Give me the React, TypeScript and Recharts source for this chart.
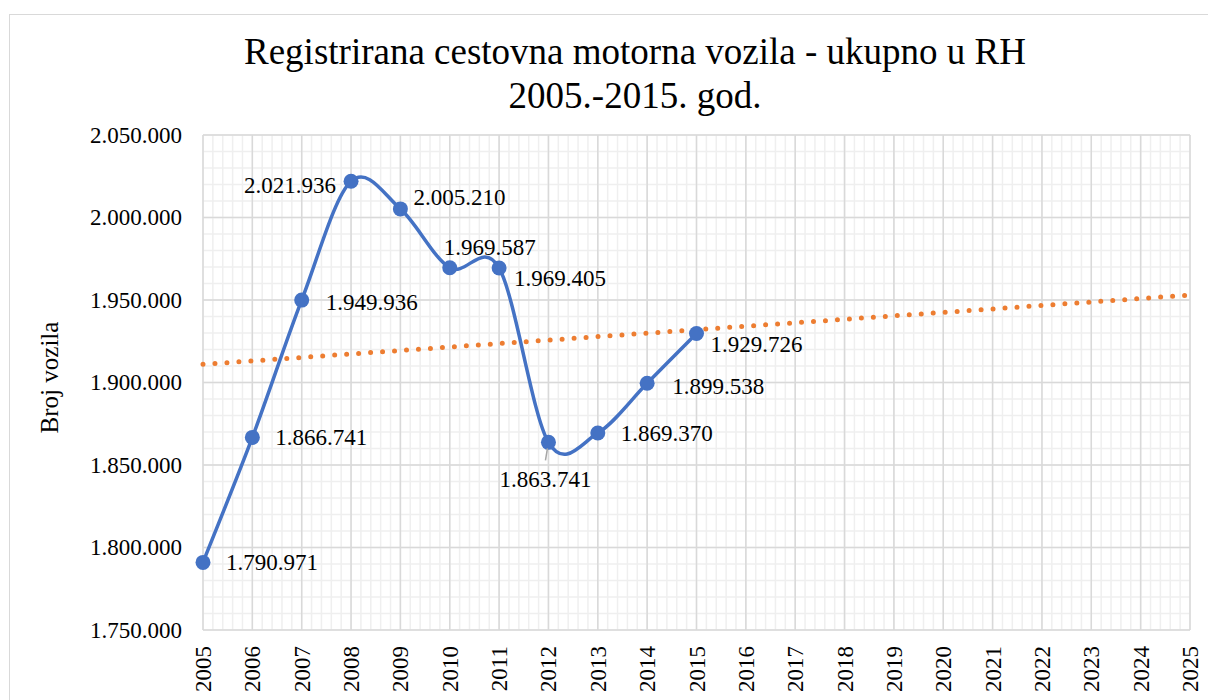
import React from 'react';
import { LineChart, Line, XAxis, YAxis, CartesianGrid, LabelList } from 'recharts';

// Registrirana vozila u RH, 2005-2015
const years = [2005, 2006, 2007, 2008, 2009, 2010, 2011, 2012, 2013, 2014, 2015];
const vehicles = [1790971, 1866741, 1949936, 2021936, 2005210, 1969587, 1969405, 1863741, 1869370, 1899538, 1929726];

// linear trendline endpoints
const trendYears = [2005, 2025];
const trendValues = [1911000, 1953000];

const xTicks = [2005, 2006, 2007, 2008, 2009, 2010, 2011, 2012, 2013, 2014, 2015, 2016, 2017, 2018, 2019, 2020, 2021, 2022, 2023, 2024, 2025];
const yTicks = [1750000, 1800000, 1850000, 1900000, 1950000, 2000000, 2050000];

const data = years.map((y, i) => ({ year: y, value: vehicles[i] }));
const trend = trendYears.map((y, i) => ({ year: y, trend: trendValues[i] }));

// minor gridlines
const minorX: number[] = [];
for (let i = 0; i <= 100; i++) minorX.push(2005 + i / 5);
const minorY: number[] = [];
for (let v = 1750000; v <= 2050000; v += 10000) minorY.push(v);

// where each data label sits relative to its point
const labelPos = [
  { dx: 23, dy: 0, anchor: 'start' },
  { dx: 23, dy: 0, anchor: 'start' },
  { dx: 24, dy: 2, anchor: 'start' },
  { dx: -15, dy: 4, anchor: 'end' },
  { dx: 13, dy: -11, anchor: 'start' },
  { dx: -6, dy: -20, anchor: 'start' },
  { dx: 15, dy: 11, anchor: 'start' },
  { dx: -3, dy: 37, anchor: 'middle' },
  { dx: 23, dy: 0, anchor: 'start' },
  { dx: 25, dy: 3, anchor: 'start' },
  { dx: 14, dy: 11, anchor: 'start' },
];

const FONT = '"Liberation Serif", "Times New Roman", serif';

const fmt = (v: number) => String(Math.round(v)).replace(/\B(?=(\d{3})+(?!\d))/g, '.');

// Excel-like smoothed line (Catmull-Rom as bezier, 1/6 tension)
function excelCurve(context: any) {
  let pts: number[][] = [];
  return {
    areaStart() {},
    areaEnd() {},
    lineStart() {
      pts = [];
    },
    point(x: number, y: number) {
      pts.push([+x, +y]);
    },
    lineEnd() {
      if (!pts.length) return;
      context.moveTo(pts[0][0], pts[0][1]);
      for (let i = 0; i < pts.length - 1; i++) {
        const p0 = pts[i - 1] || pts[i];
        const p1 = pts[i];
        const p2 = pts[i + 1];
        const p3 = pts[i + 2] || p2;
        context.bezierCurveTo(
          p1[0] + (p2[0] - p0[0]) / 6,
          p1[1] + (p2[1] - p0[1]) / 6,
          p2[0] - (p3[0] - p1[0]) / 6,
          p2[1] - (p3[1] - p1[1]) / 6,
          p2[0],
          p2[1]
        );
      }
    },
  };
}

const XTick = (props: any) => {
  const { x, y, payload } = props;
  const ax = x + 8;
  const ay = y + 8;
  return (
    <text x={ax} y={ay} transform={`rotate(-90 ${ax} ${ay})`} textAnchor="end" fontSize={23} fontFamily={FONT} fill="#000">
      {payload.value}
    </text>
  );
};

const YTick = (props: any) => {
  const { x, y, payload } = props;
  return (
    <text x={x} y={y} dominantBaseline="central" textAnchor="end" fontSize={23} fontFamily={FONT} fill="#000">
      {fmt(payload.value)}
    </text>
  );
};

const PointLabel = (props: any) => {
  const { index, value } = props;
  const px = props.x ?? props.viewBox?.x;
  const py = props.y ?? props.viewBox?.y;
  const p = labelPos[index];
  if (!p || px == null) return null;
  return (
    <g>
      {index === 7 && <line x1={px - 1} y1={py + 6} x2={px - 3} y2={py + 18} stroke="#a6a6a6" strokeWidth={1.5} />}
      <text x={px + p.dx} y={py + p.dy} textAnchor={p.anchor} dominantBaseline="central" fontSize={23} fontFamily={FONT} fill="#000">
        {fmt(value)}
      </text>
    </g>
  );
};

const YLabel = (props: any) => {
  const vb = props.viewBox || { x: 0, y: 135, width: 203, height: 495 };
  const cx = vb.x + 58;
  const cy = vb.y + vb.height / 2 - 5;
  return (
    <text x={cx} y={cy} transform={`rotate(-90 ${cx} ${cy})`} textAnchor="middle" fontSize={25} fontFamily={FONT} fill="#000">
      Broj vozila
    </text>
  );
};

export default function App() {
  return (
    <div style={{ position: 'absolute', left: 0, top: 0, width: 1208, height: 700, overflow: 'hidden', background: '#fff' }}>
      <div
        style={{
          position: 'absolute',
          left: 9,
          top: 14,
          width: 1300,
          height: 800,
          border: '1.5px solid #d9d9d9',
        }}
      />
      <div
        style={{
          position: 'absolute',
          left: 0,
          top: 30,
          width: 1270,
          textAlign: 'center',
          fontFamily: FONT,
          fontSize: 37,
          lineHeight: '44px',
          color: '#000',
        }}
      >
        <div>Registrirana cestovna motorna vozila - ukupno u RH</div>
        <div>2005.-2015. god.</div>
      </div>
      <div style={{ position: 'absolute', left: 0, top: 0 }}>
        <LineChart width={1208} height={700} data={data} margin={{ top: 135, right: 18, bottom: 0, left: 0 }}>
          <CartesianGrid verticalValues={minorX} horizontalValues={minorY} stroke="#efefef" strokeWidth={1.5} />
          <CartesianGrid verticalValues={xTicks} horizontalValues={yTicks} stroke="#d9d9d9" strokeWidth={1.5} />
          <XAxis
            dataKey="year"
            type="number"
            domain={[2005, 2025]}
            ticks={xTicks}
            interval={0}
            height={70}
            axisLine={false}
            tickLine={false}
            tick={<XTick />}
          />
          <YAxis
            type="number"
            domain={[1750000, 2050000]}
            ticks={yTicks}
            interval={0}
            width={203}
            axisLine={false}
            tickLine={false}
            tickSize={0}
            tickMargin={21}
            tick={<YTick />}
            label={{ content: <YLabel /> }}
          />
          <Line
            data={trend}
            dataKey="trend"
            type="linear"
            stroke="#ed7d31"
            strokeWidth={5}
            strokeDasharray="0 12"
            strokeLinecap="round"
            dot={false}
            activeDot={false}
            isAnimationActive={false}
          />
          <Line
            dataKey="value"
            type={excelCurve as any}
            stroke="#4472c4"
            strokeWidth={3.5}
            dot={{ r: 7.5, fill: '#4472c4', stroke: '#4472c4', strokeWidth: 0 }}
            activeDot={false}
            isAnimationActive={false}
          >
            <LabelList dataKey="value" content={<PointLabel />} />
          </Line>
        </LineChart>
      </div>
    </div>
  );
}
